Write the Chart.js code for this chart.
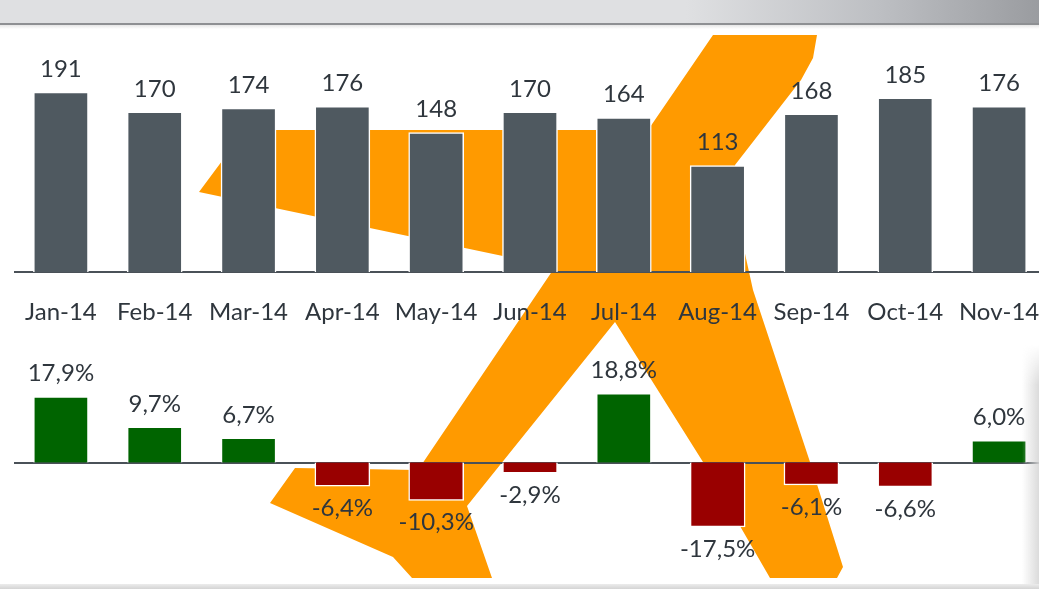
<!DOCTYPE html>
<html>
<head>
<meta charset="utf-8">
<script src="https://cdn.jsdelivr.net/npm/chart.js@4.4.0/dist/chart.umd.min.js"></script>
<style>
  html, body { margin: 0; padding: 0; background: #fff; overflow: hidden; }
  body { width: 1039px; height: 589px; position: relative; }
  #header { position: absolute; left: 0; top: 0; width: 1039px; height: 23px;
    background: linear-gradient(to right, #dfe0e2 0%, #dfe0e2 66%, #bcbec2 85%, #9a9ca0 100%); }
  #headerLine { position: absolute; left: 0; top: 23px; width: 1039px; height: 2px; background: #8e9093; }
  #headerShadow { position: absolute; left: 0; top: 25px; width: 1039px; height: 4px;
    background: linear-gradient(#e6e6e6, #fff); }
  #footer { position: absolute; left: 0; top: 584px; width: 1039px; height: 5px;
    background: linear-gradient(#ececec, #d4d4d4); }
  #sideShadow { position: absolute; left: 1022px; top: 345px; width: 17px; height: 239px;
    background: linear-gradient(to right, rgba(220,220,220,0), rgba(215,215,215,0.9));
    -webkit-mask-image: linear-gradient(to bottom, transparent, #000 40px);
    mask-image: linear-gradient(to bottom, transparent, #000 40px); }
  #logo { position: absolute; left: 0; top: 0; }
  .chartBox { position: absolute; left: 14px; }
  #topBox { top: 25px; }
  #bottomBox { top: 330px; }
</style>
</head>
<body>
<div id="header"></div>
<div id="headerLine"></div>
<div id="headerShadow"></div>
<canvas id="logo" width="1039" height="589"></canvas>
<div class="chartBox" id="topBox"><canvas id="topChart" width="1032" height="304"></canvas></div>
<div class="chartBox" id="bottomBox"><canvas id="bottomChart" width="1032" height="255"></canvas></div>
<div id="sideShadow"></div>
<div id="footer"></div>
<script>
window.addEventListener("load", init);

const months = ["Jan-14", "Feb-14", "Mar-14", "Apr-14", "May-14", "Jun-14", "Jul-14", "Aug-14", "Sep-14", "Oct-14", "Nov-14"];
const counts = [191, 170, 174, 176, 148, 170, 164, 113, 168, 185, 176];
const changes = [17.9, 9.7, 6.7, -6.4, -10.3, -2.9, 18.8, -17.5, -6.1, -6.6, 6.0];

const textColor = "#2f363d";
const fontFamily = "Lato, 'Open Sans', sans-serif";

function init(){
  drawLogo();
  drawTopChart();
  drawBottomChart();
}

//Orange background figure (decoration only)
function drawLogo(){
  let ctx = document.querySelector("#logo").getContext("2d");
  let outline = [
    [245,130],[648,130],[713,35],[817,35],[813,58],[801,80],[735,165],[742,240],[753,290],
    [810,462],[843,567],[837,578],[770,578],[703,462],[615,322],[467,506],[492,578],
    [412,578],[393,557],[270,503],[295,468],[418,470],[555,267],[199,192]
  ];
  ctx.fillStyle = "#ff9a00";
  ctx.beginPath();
  outline.forEach(([x, y], i) => i === 0 ? ctx.moveTo(x, y) : ctx.lineTo(x, y));
  ctx.closePath();
  ctx.fill();
}

function makeLabels(format){
  return {
    id: "valueLabels",
    afterDatasetsDraw(chart){
      let ctx = chart.ctx;
      let values = chart.data.datasets[0].data;
      ctx.save();
      ctx.font = "24px " + fontFamily;
      ctx.fillStyle = textColor;
      ctx.textAlign = "center";
      ctx.textBaseline = "middle";
      chart.getDatasetMeta(0).data.forEach((bar, i) => {
        let y = values[i] >= 0 ? bar.y - 23 : bar.y + 22;
        ctx.fillText(format(values[i]), bar.x, y);
      });
      ctx.restore();
    }
  };
}

//keep the category band full width and the axis a fixed height
function fixAxis(height){
  return function(scale){
    scale.paddingLeft = 0;
    scale.paddingRight = 0;
    if(height) scale.height = height;
  };
}

function drawTopChart(){
  let ctx = document.querySelector("#topChart").getContext("2d");
  new Chart(ctx, {
    type: "bar",
    data: {
      labels: months,
      datasets: [{
        data: counts,
        backgroundColor: "#4f5960",
        borderColor: "#ffffff",
        borderWidth: 1.5,
        barThickness: 55
      }]
    },
    options: {
      responsive: false,
      animation: false,
      layout: { padding: { top: 21, left: 0, right: 0, bottom: 0 } },
      plugins: { legend: { display: false }, tooltip: { enabled: false } },
      scales: {
        x: {
          afterFit: fixAxis(57),
          grid: { display: false, drawTicks: false },
          border: { display: true, color: "#4a5158", width: 2 },
          ticks: { color: textColor, font: { family: fontFamily, size: 24 }, padding: 26, maxRotation: 0 }
        },
        y: { display: false, min: 0, max: 240 }
      }
    },
    plugins: [makeLabels(v => String(v))]
  });
}

function drawBottomChart(){
  let ctx = document.querySelector("#bottomChart").getContext("2d");
  new Chart(ctx, {
    type: "bar",
    data: {
      labels: months,
      datasets: [{
        data: changes,
        backgroundColor: changes.map(v => v >= 0 ? "#006400" : "#990000"),
        borderColor: "#ffffff",
        borderWidth: 1.5,
        barThickness: 55
      }]
    },
    options: {
      responsive: false,
      animation: false,
      layout: { padding: { top: 22, left: 0, right: 0, bottom: 12 } },
      plugins: { legend: { display: false }, tooltip: { enabled: false } },
      scales: {
        x: {
          position: { y: 0 },
          afterFit: fixAxis(0),
          grid: { display: false },
          border: { display: true, color: "#4a5158", width: 2 },
          ticks: { display: false }
        },
        y: { display: false, min: -30, max: 30 }
      }
    },
    plugins: [makeLabels(v => v.toFixed(1).replace(".", ",") + "%")]
  });
}
</script>
</body>
</html>
